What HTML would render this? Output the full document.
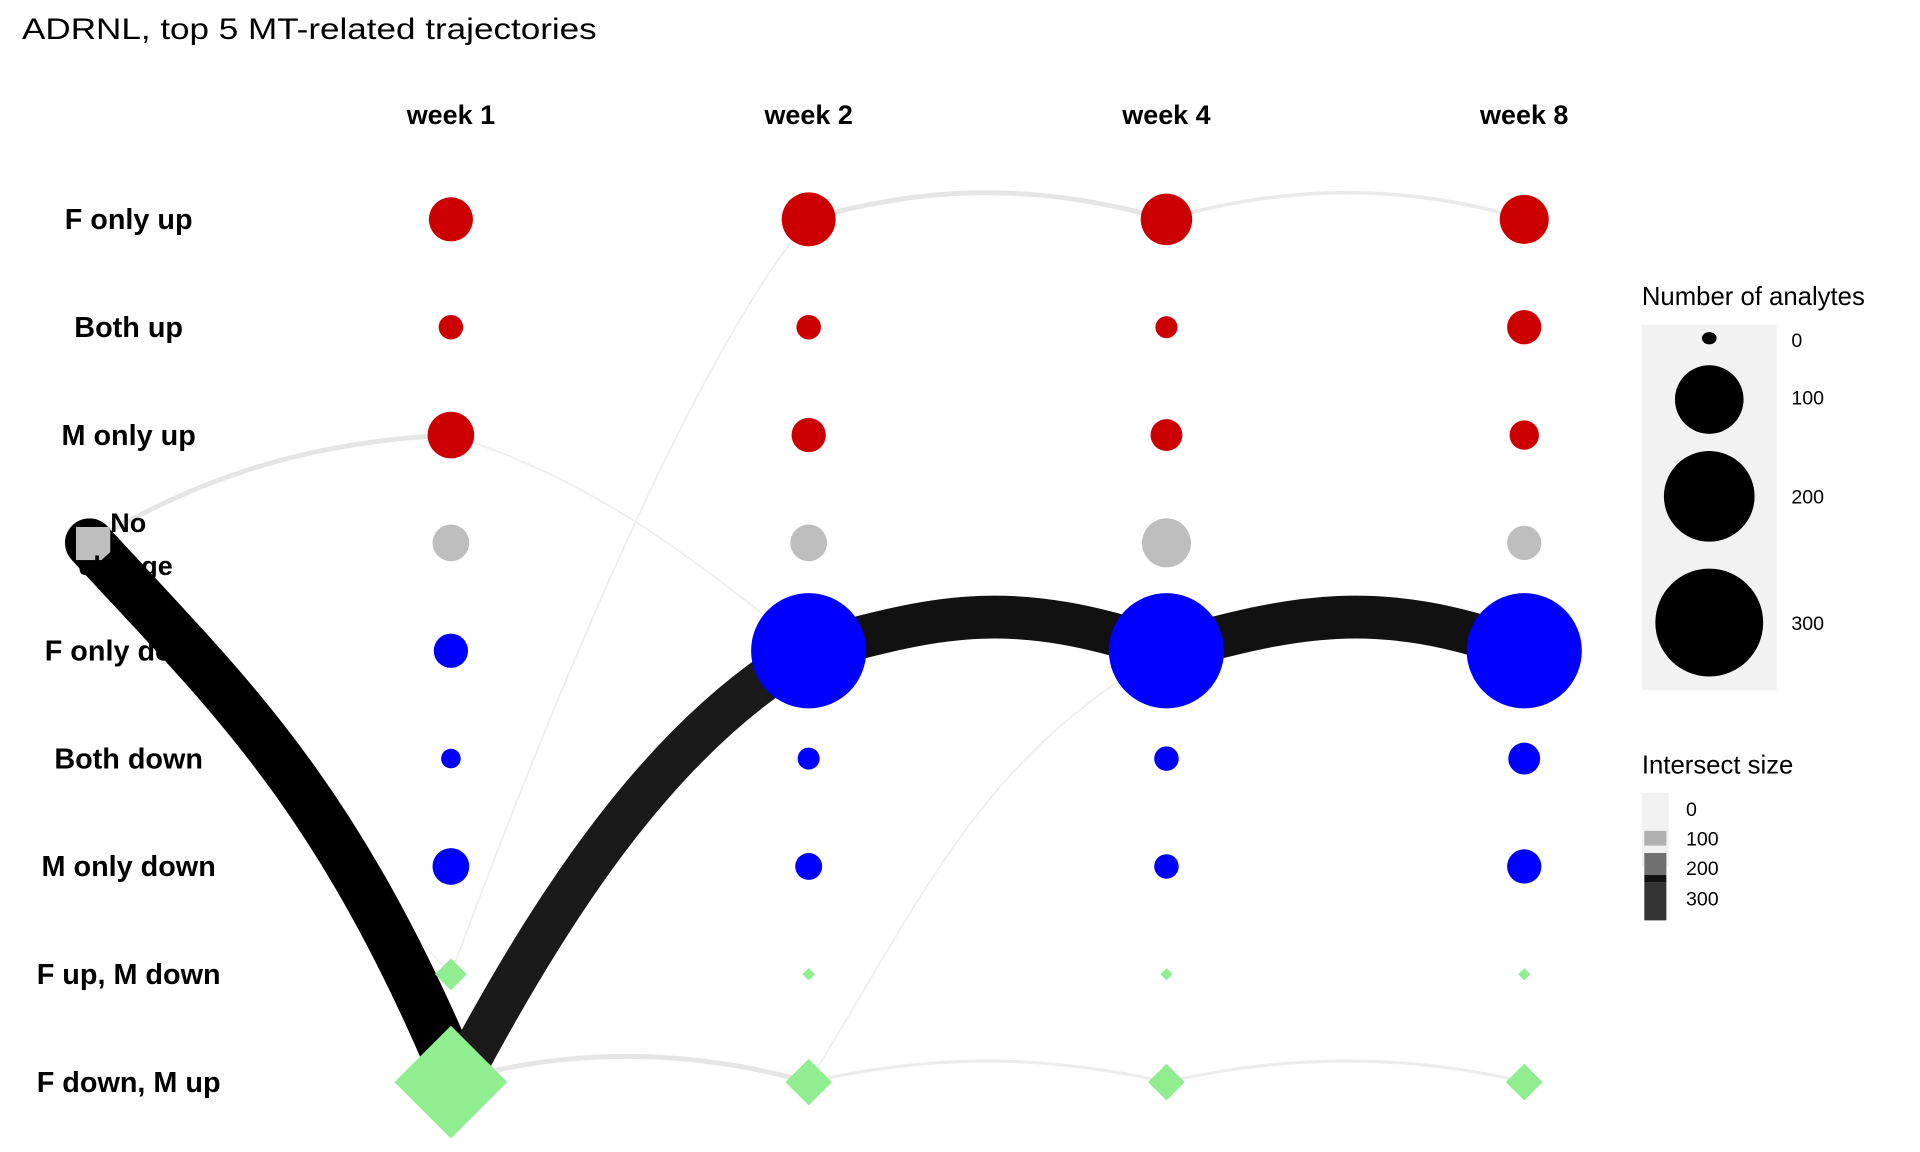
<!DOCTYPE html>
<html><head><meta charset="utf-8"><style>
html,body{margin:0;padding:0;background:#fff;}
svg{display:block;}
text{font-family:"Liberation Sans",Arial,sans-serif;}
</style></head><body>
<svg width="1920" height="1152" viewBox="0 0 1567 940" preserveAspectRatio="none" xmlns="http://www.w3.org/2000/svg">
<rect width="1567" height="940" fill="#fff"/>
<text x="18" y="32" font-size="24" textLength="469" lengthAdjust="spacingAndGlyphs">ADRNL, top 5 MT-related trajectories</text>

<g font-weight="bold" font-size="22" text-anchor="middle">
<text x="368" y="101">week 1</text>
<text x="660" y="101">week 2</text>
<text x="952" y="101">week 4</text>
<text x="1244" y="101">week 8</text>
</g>

<g fill="none" stroke-linecap="round">
<path d="M368,355 C480,390 560,450 660,531" stroke="#eeeeee" stroke-width="1.5"/>
<path d="M368,795 C440,600 560,300 660,179" stroke="#eeeeee" stroke-width="1.5"/>
<path d="M660,883 C760,720 800,620 952,531" stroke="#eeeeee" stroke-width="1.5"/>
<path d="M73,443 C200,600 280,700 368,795" stroke="#f2f2f2" stroke-width="1.5"/>
<path d="M73,443 C170,385 260,360 368,355" stroke="#e5e5e5" stroke-width="4"/>
<path d="M660,179 C760,150 850,150 952,179" stroke="#e5e5e5" stroke-width="4"/>
<path d="M952,179 C1050,150 1150,150 1244,179" stroke="#eaeaea" stroke-width="3"/>
<path d="M368,883 C460,855 560,855 660,883" stroke="#e5e5e5" stroke-width="4"/>
<path d="M660,883 C760,860 850,860 952,883" stroke="#ececec" stroke-width="2.5"/>
<path d="M952,883 C1050,860 1150,860 1244,883" stroke="#ececec" stroke-width="2.5"/>
<path d="M73,443 C180,560 270,640 368,870" stroke="#000" stroke-width="40" stroke-linecap="butt"/>
<circle cx="73" cy="443" r="20" fill="#000"/>
<path d="M378,875 C450,740 540,600 660,531" stroke="#1a1a1a" stroke-width="35" stroke-linecap="butt"/>
<path d="M660,531 C760,505 820,485 952,531" stroke="#111" stroke-width="35"/>
<path d="M952,531 C1050,505 1120,485 1244,531" stroke="#111" stroke-width="35"/>
</g>

<g font-weight="bold" font-size="23.5" text-anchor="middle">
<text x="105" y="187">F only up</text>
<text x="105" y="275">Both up</text>
<text x="105" y="363">M only up</text>
<text x="105" y="539">F only down</text>
<text x="105" y="627">Both down</text>
<text x="105" y="715">M only down</text>
<text x="105" y="803">F up, M down</text>
<text x="105" y="891">F down, M up</text>
</g>
<rect x="62" y="430" width="28" height="27" fill="#bebebe"/>
<g font-weight="bold" font-size="22">
<text x="90" y="434">No</text>
<text x="64" y="469">change</text>
</g>
<path d="M85,455 C180,560 270,640 368,870" stroke="#000" stroke-width="34" fill="none"/>

<g>
<circle cx="368" cy="179" r="18" fill="#cc0000"/>
<circle cx="368" cy="267" r="10" fill="#cc0000"/>
<circle cx="368" cy="355" r="19" fill="#cc0000"/>
<circle cx="368" cy="443" r="15" fill="#bebebe"/>
<circle cx="368" cy="531" r="14" fill="#0000ff"/>
<circle cx="368" cy="619" r="8" fill="#0000ff"/>
<circle cx="368" cy="707" r="15" fill="#0000ff"/>
<polygon points="368,782 381,795 368,808 355,795" fill="#90ee90"/>
<polygon points="368,837 414,883 368,929 322,883" fill="#90ee90"/>
</g>
<g>
<circle cx="660" cy="179" r="22" fill="#cc0000"/>
<circle cx="660" cy="267" r="10" fill="#cc0000"/>
<circle cx="660" cy="355" r="14" fill="#cc0000"/>
<circle cx="660" cy="443" r="15" fill="#bebebe"/>
<circle cx="660" cy="531" r="47" fill="#0000ff"/>
<circle cx="660" cy="619" r="9" fill="#0000ff"/>
<circle cx="660" cy="707" r="11" fill="#0000ff"/>
<polygon points="660,790 665,795 660,800 655,795" fill="#90ee90"/>
<polygon points="660,864 679,883 660,902 641,883" fill="#90ee90"/>
</g>
<g>
<circle cx="952" cy="179" r="21" fill="#cc0000"/>
<circle cx="952" cy="267" r="9" fill="#cc0000"/>
<circle cx="952" cy="355" r="13" fill="#cc0000"/>
<circle cx="952" cy="443" r="20" fill="#bebebe"/>
<circle cx="952" cy="531" r="47" fill="#0000ff"/>
<circle cx="952" cy="619" r="10" fill="#0000ff"/>
<circle cx="952" cy="707" r="10" fill="#0000ff"/>
<polygon points="952,790 957,795 952,800 947,795" fill="#90ee90"/>
<polygon points="952,868 967,883 952,898 937,883" fill="#90ee90"/>
</g>
<g>
<circle cx="1244" cy="179" r="20" fill="#cc0000"/>
<circle cx="1244" cy="267" r="14" fill="#cc0000"/>
<circle cx="1244" cy="355" r="12" fill="#cc0000"/>
<circle cx="1244" cy="443" r="14" fill="#bebebe"/>
<circle cx="1244" cy="531" r="47" fill="#0000ff"/>
<circle cx="1244" cy="619" r="13" fill="#0000ff"/>
<circle cx="1244" cy="707" r="14" fill="#0000ff"/>
<polygon points="1244,790 1249,795 1244,800 1239,795" fill="#90ee90"/>
<polygon points="1244,868 1259,883 1244,898 1229,883" fill="#90ee90"/>
</g>

<text x="1340" y="249" font-size="21">Number of analytes</text>
<rect x="1340" y="265" width="110" height="298" fill="#f2f2f2"/>
<ellipse cx="1395" cy="276" rx="6" ry="5" fill="#000"/>
<circle cx="1395" cy="326" r="28" fill="#000"/>
<circle cx="1395" cy="405" r="37" fill="#000"/>
<circle cx="1395" cy="508" r="44" fill="#000"/>
<g font-size="16">
<text x="1462" y="283">0</text>
<text x="1462" y="330">100</text>
<text x="1462" y="411">200</text>
<text x="1462" y="514">300</text>
</g>
<text x="1340" y="631" font-size="21">Intersect size</text>
<rect x="1340" y="647" width="22" height="60" fill="#f2f2f2"/>
<rect x="1342" y="678" width="18" height="12" fill="#b0b0b0"/>
<rect x="1342" y="696" width="18" height="18" fill="#707070"/>
<rect x="1342" y="714" width="18" height="6" fill="#111"/>
<rect x="1342" y="720" width="18" height="31" fill="#333"/>
<g font-size="16">
<text x="1376" y="666">0</text>
<text x="1376" y="690">100</text>
<text x="1376" y="714">200</text>
<text x="1376" y="739">300</text>
</g>
</svg>
</body></html>
